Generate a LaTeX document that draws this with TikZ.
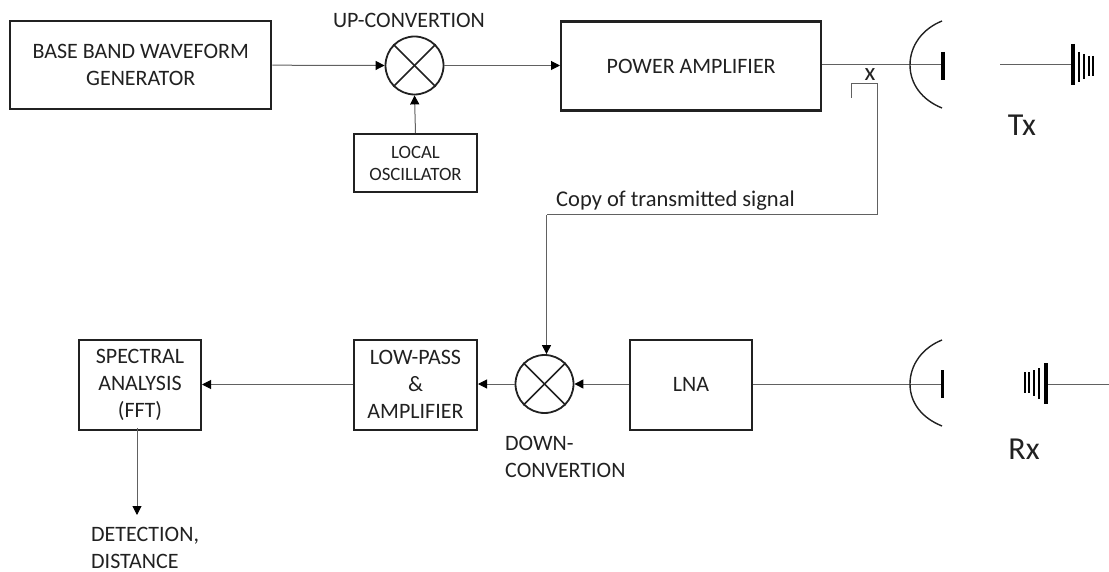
\documentclass[tikz,border=0pt]{standalone}
\usepackage{fontspec}
\setmainfont{Carlito}
\usetikzlibrary{arrows.meta,calc}
\definecolor{ink}{gray}{0.13}
\definecolor{wire}{gray}{0.38}
\tikzset{
  x=1pt,y=-1pt,
  blockbox/.style={draw=ink,line width=2pt,anchor=north west,inner sep=0pt,align=center,text=ink,font=\fontsize{22}{27}\selectfont},
  thickbox/.style={blockbox,line width=2.4pt},
  mixer/.style={draw=ink,line width=1.8pt,circle,minimum size=58pt,inner sep=0pt},
  lbl/.style={text=ink,font=\fontsize{22}{27}\selectfont,inner sep=0pt,align=left},
  bigl/.style={text=ink,font=\fontsize{32}{32}\selectfont,inner sep=0pt},
  wireline/.style={draw=wire,line width=1pt},
  sig/.style={wireline,-{Triangle[length=9pt,width=9pt,color=black]}},
  dish/.style={draw=ink,line width=1.4pt},
  bar/.style={draw=black},
}
\begin{document}
\begin{tikzpicture}
\useasboundingbox (0,0) rectangle (1109,572);
% blocks
\node[thickbox,minimum width=261pt,minimum height=88pt] (bb) at (9,20) {BASE BAND WAVEFORM\\GENERATOR};
\node[mixer] (up) at (414.5,65.5) {};
\node[blockbox,font=\fontsize{18.8}{22}\selectfont,minimum width=123pt,minimum height=58pt] (lo) at (353,133) {LOCAL\\OSCILLATOR};
\node[thickbox,minimum width=260pt,minimum height=89pt] (pa) at (560,20.5) {POWER AMPLIFIER};
\node[blockbox,minimum width=122pt,minimum height=90pt] (spec) at (78,338.5) {SPECTRAL\\ANALYSIS\\(FFT)};
\node[blockbox,minimum width=123pt,minimum height=90pt] (lp) at (353,338.5) {LOW-PASS\\\&\\AMPLIFIER};
\node[mixer] (down) at (544.5,384) {};
\node[blockbox,minimum width=122pt,minimum height=90pt] (lna) at (629,338.5) {LNA};
% mixer crosses
\foreach \m in {up,down}{
  \draw[draw=ink,line width=1.6pt] (\m.north west) -- (\m.south east);
  \draw[draw=ink,line width=1.6pt] (\m.north east) -- (\m.south west);
}
% labels
\node[lbl] (uplabel) at (409,20) {UP-CONVERTION};
\node[lbl,anchor=west,font=\fontsize{22.5}{27}\selectfont] (copy) at (556,201) {Copy of transmitted signal};
\node[lbl,anchor=north west] (downlabel) at (505,436) {DOWN-\\CONVERTION};
\node[lbl,anchor=north west] (detect) at (91,527) {DETECTION,\\DISTANCE};
\node[bigl] (tx) at (1022,125) {Tx};
\node[bigl] (rx) at (1024,449) {Rx};
\node[text=ink,font=\fontsize{25}{25}\selectfont,inner sep=0pt] (xmark) at (870,75) {x};
% helper coordinates
\coordinate (txfeed) at (943,65);
\coordinate (txhorn) at (1072,65);
\coordinate (txstart) at (1000,65);
\coordinate (rxfeed) at (943,384);
\coordinate (rxhorn) at (1046,384);
\coordinate (rxend) at (1109,384);
\coordinate (tapA) at (851,98);
\coordinate (tapB) at (851,84);
\coordinate (tapC) at (877,84);
\coordinate (tapD) at (877,215);
\coordinate (tapE) at (546.5,215);
\coordinate (specout) at (137,428);
\coordinate (detin) at (137,515);
% connectors
\draw[sig] (bb.east) -- (up.west);
\draw[sig] (up.east) -- (pa.west |- up.east);
\draw[sig] (lo.north) -- (up.south);
\draw[wireline] (pa.east |- txfeed) -- (txfeed);
\draw[wireline] (txstart) -- (txhorn);
\draw[wireline] (tapA) -- (tapB) -- (tapC) -- (tapD) -- (tapE);
\draw[sig] (tapE) -- (tapE |- down.north);
\draw[sig] (lna.west |- down.east) -- (down.east);
\draw[sig] (down.west) -- (lp.east |- down.west);
\draw[sig] (lp.west |- spec.east) -- (spec.east);
\draw[sig] (specout) -- (detin);
\draw[wireline] (lna.east |- rxfeed) -- (rxfeed);
\draw[wireline] (rxhorn) -- (rxend);
% dishes
\draw[dish] (942,21) .. controls (922,29) and (910,46) .. (910,65) .. controls (910,84) and (922,100) .. (942,108);
\draw[dish] (942,340) .. controls (922,348) and (910,365) .. (910,384) .. controls (910,403) and (922,418) .. (942,426);
\draw[bar,line width=3.5pt] (943,52) -- (943,80);
\draw[bar,line width=3.5pt] (942.5,370) -- (942.5,398);
% Tx radiator
\draw[bar,line width=4pt] (1073,44) -- (1073,85);
\draw[bar,line width=2.5pt] (1079,52) -- (1079,82);
\draw[bar,line width=2pt] (1084,54) -- (1084,79);
\draw[bar,line width=1.8pt] (1089,56) -- (1089,76);
\draw[bar,line width=1.8pt] (1093,56) -- (1093,76);
% Rx radiator
\draw[bar,line width=4pt] (1045.5,363) -- (1045.5,404);
\draw[bar,line width=2.5pt] (1039,368) -- (1039,399);
\draw[bar,line width=2pt] (1034,370) -- (1034,396);
\draw[bar,line width=1.8pt] (1029,372) -- (1029,393);
\draw[bar,line width=1.8pt] (1025,372) -- (1025,393);
\end{tikzpicture}
\end{document}
